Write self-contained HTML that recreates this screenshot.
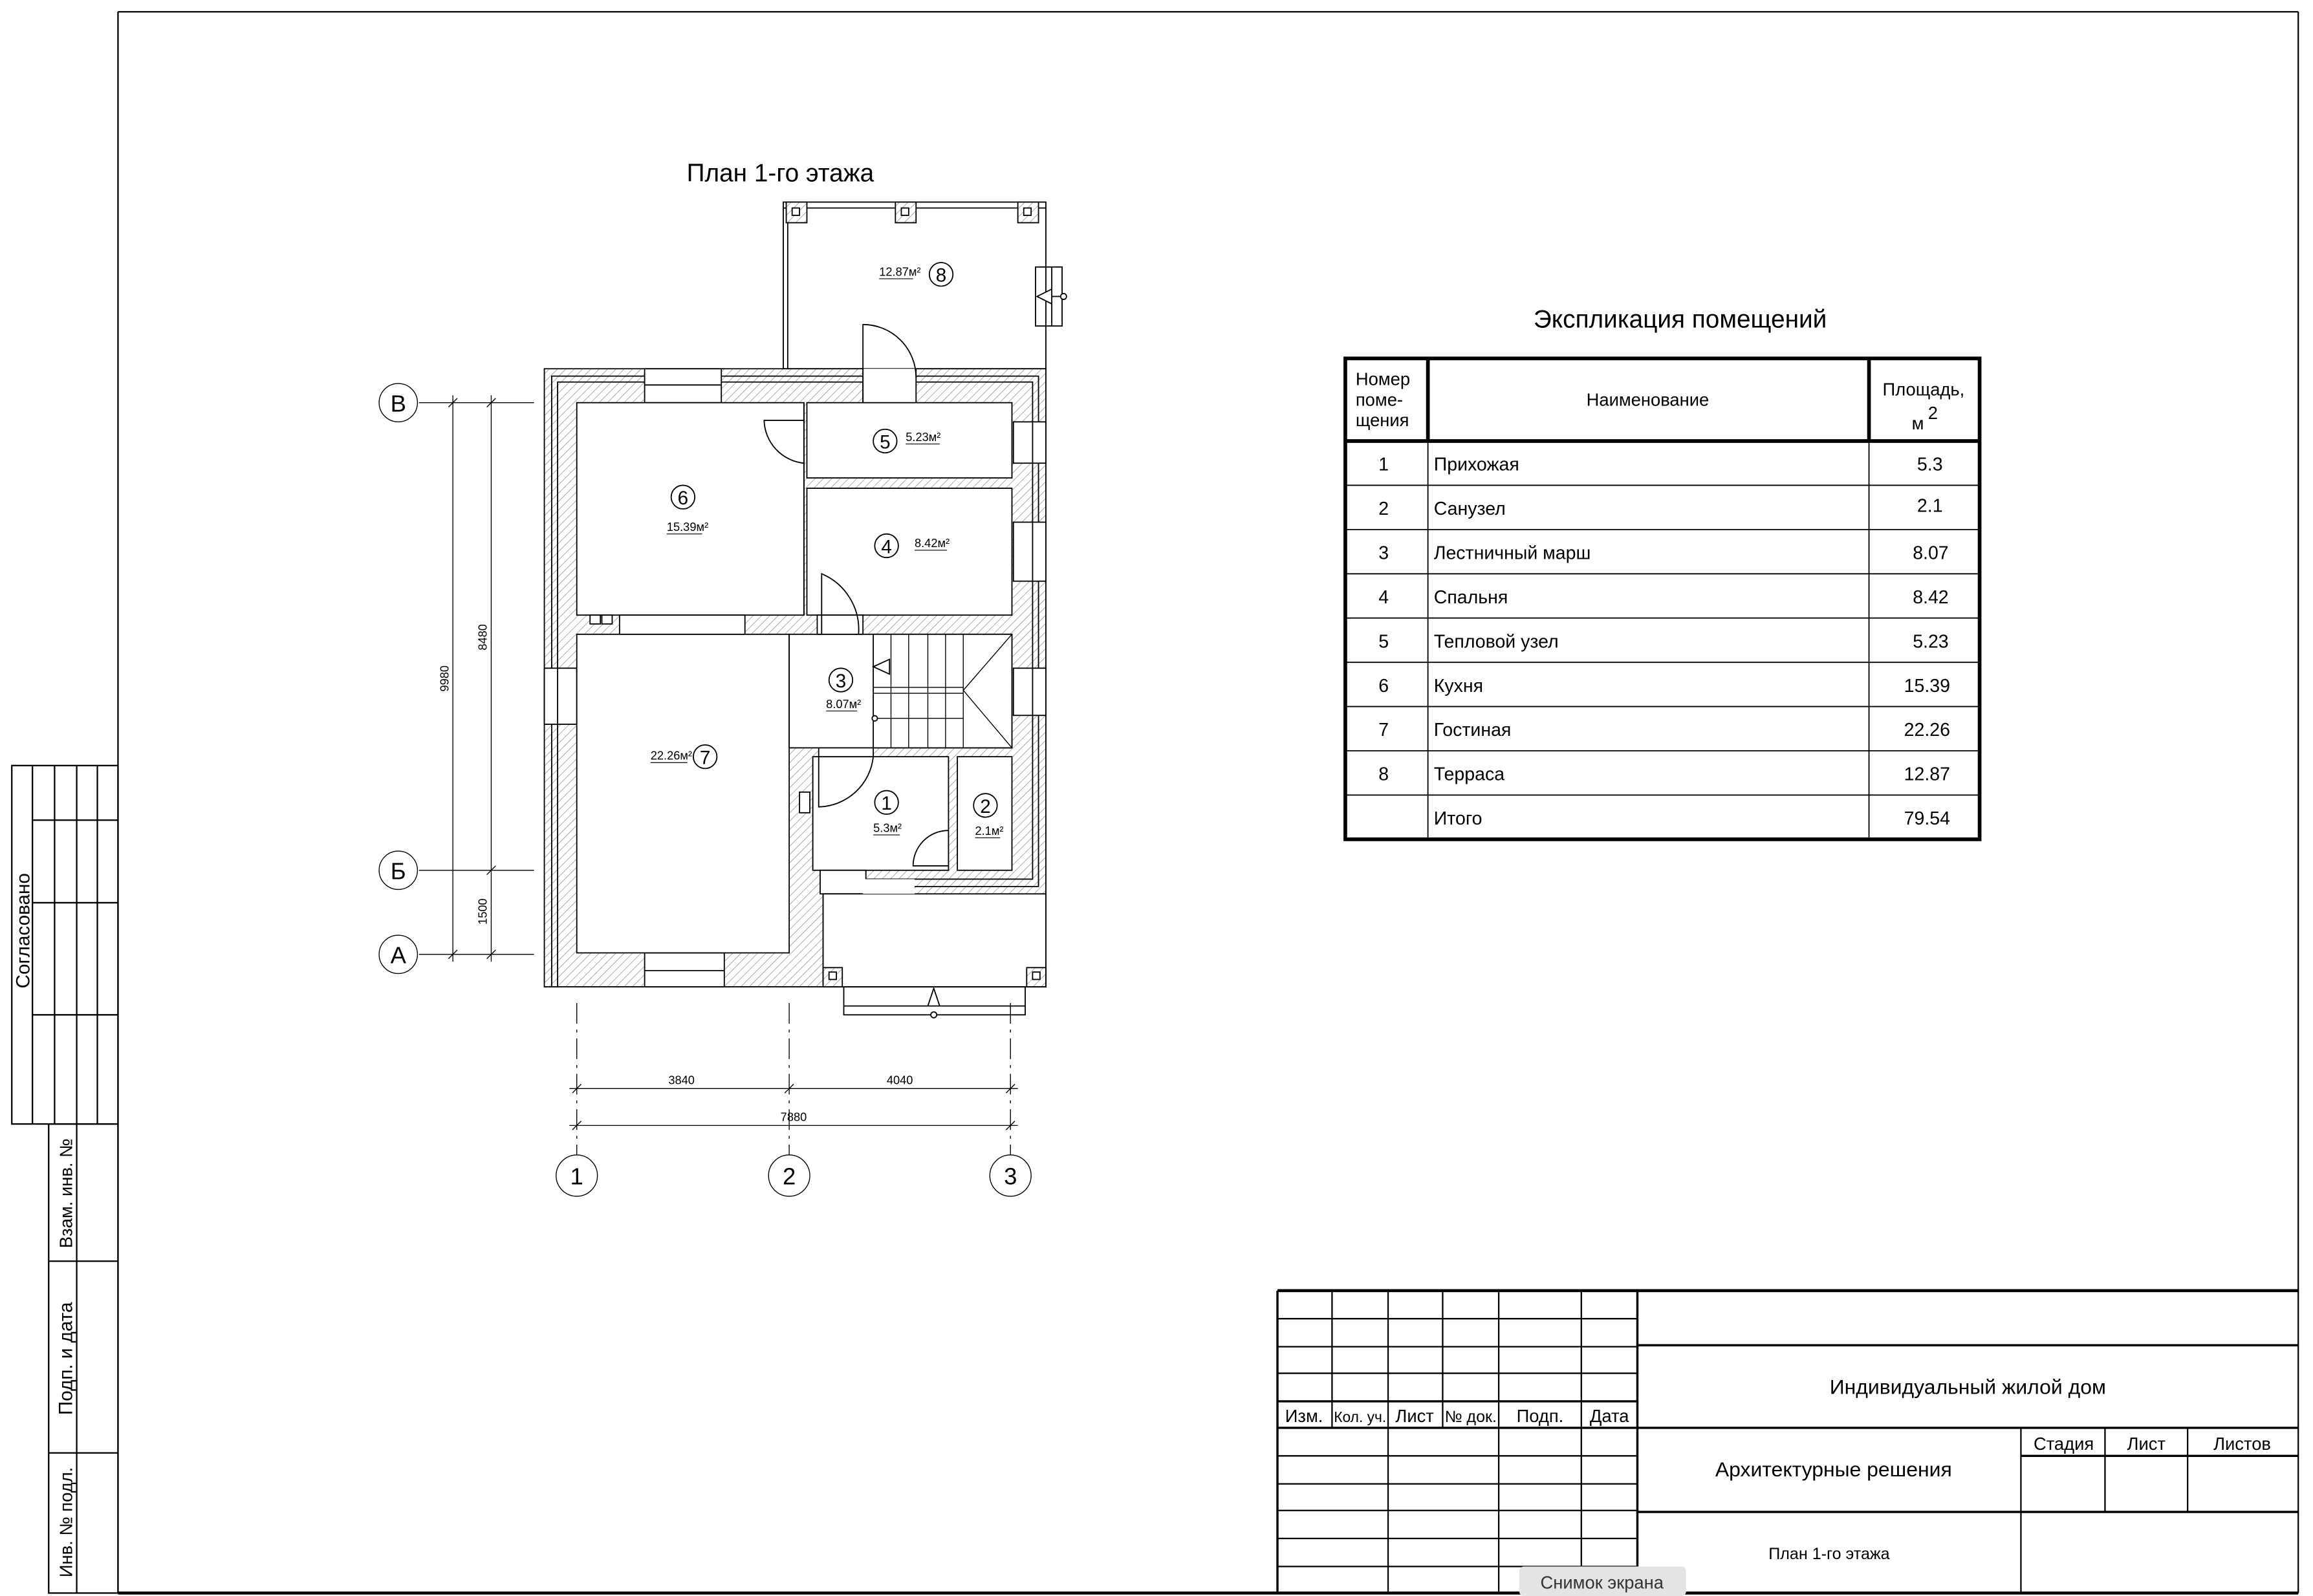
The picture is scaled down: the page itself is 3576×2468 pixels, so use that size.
<!DOCTYPE html>
<html><head><meta charset="utf-8"><style>
html,body{margin:0;padding:0;background:#fff}
svg{display:block}
text{font-family:"Liberation Sans",sans-serif;fill:#000}
.n{font-family:"Liberation Sans Narrow","Liberation Sans",sans-serif}
</style></head><body>
<svg width="3576" height="2468" viewBox="0 0 1568 1082" preserveAspectRatio="none" xmlns="http://www.w3.org/2000/svg">
<defs>
<pattern id="h" width="4" height="4" patternUnits="userSpaceOnUse" patternTransform="rotate(45)">
<rect width="4" height="4" fill="#fff"/><line x1="0" y1="0" x2="0" y2="4" stroke="#888" stroke-width="0.6"/>
</pattern>
</defs>
<rect width="1568" height="1082" fill="#fff"/>
<g stroke="#000" fill="none" stroke-width="1">
<line x1="80" y1="8" x2="1558" y2="8"/>
<line x1="80" y1="8" x2="80" y2="1080"/>
<line x1="1558" y1="8" x2="1558" y2="1080"/>
<line x1="80" y1="1080" x2="1558" y2="1080" stroke-width="2"/>
<rect x="8" y="519" width="72" height="243"/>
<line x1="22" y1="519" x2="22" y2="762"/>
<line x1="37" y1="519" x2="37" y2="762"/>
<line x1="52" y1="519" x2="52" y2="762"/>
<line x1="66" y1="519" x2="66" y2="762"/>
<line x1="22" y1="556" x2="80" y2="556"/>
<line x1="22" y1="612" x2="80" y2="612"/>
<line x1="22" y1="688" x2="80" y2="688"/>
<rect x="33" y="762" width="47" height="318"/>
<line x1="52" y1="762" x2="52" y2="1080"/>
<line x1="33" y1="855" x2="80" y2="855"/>
<line x1="33" y1="985" x2="80" y2="985"/>
</g>
<text x="20" y="631" font-size="13" transform="rotate(-90 20 631)" text-anchor="middle">Согласовано</text>
<text x="49" y="809" font-size="12" transform="rotate(-90 49 809)" text-anchor="middle">Взам. инв. №</text>
<text x="49" y="921" font-size="13" transform="rotate(-90 49 921)" text-anchor="middle">Подп. и дата</text>
<text x="49" y="1032" font-size="12" class="n" transform="rotate(-90 49 1032)" text-anchor="middle">Инв. № подл.</text>

<g stroke="#000" fill="none" stroke-width="1">
<line x1="866" y1="875" x2="1558" y2="875" stroke-width="2"/>
<line x1="866" y1="875" x2="866" y2="1080" stroke-width="1.5"/>
<line x1="903" y1="875" x2="903" y2="968"/>
<line x1="941" y1="875" x2="941" y2="1080"/>
<line x1="978" y1="875" x2="978" y2="968"/>
<line x1="1016" y1="875" x2="1016" y2="1080"/>
<line x1="1072" y1="875" x2="1072" y2="1080"/>
<line x1="1110" y1="875" x2="1110" y2="1080" stroke-width="1.5"/>
<line x1="866" y1="894" x2="1110" y2="894"/>
<line x1="866" y1="913" x2="1110" y2="913"/>
<line x1="866" y1="931" x2="1110" y2="931"/>
<line x1="866" y1="950" x2="1110" y2="950" stroke-width="1.5"/>
<line x1="866" y1="968" x2="1558" y2="968" stroke-width="1.5"/>
<line x1="866" y1="987" x2="1110" y2="987"/>
<line x1="866" y1="1006" x2="1110" y2="1006"/>
<line x1="866" y1="1024" x2="1110" y2="1024"/>
<line x1="866" y1="1043" x2="1110" y2="1043"/>
<line x1="866" y1="1062" x2="1110" y2="1062"/>
<line x1="1110" y1="912" x2="1558" y2="912" stroke-width="1.5"/>
<line x1="1110" y1="1025" x2="1558" y2="1025" stroke-width="1.5"/>
<line x1="1370" y1="968" x2="1370" y2="1080"/>
<line x1="1427" y1="968" x2="1427" y2="1025"/>
<line x1="1483" y1="968" x2="1483" y2="1025"/>
<line x1="1370" y1="987" x2="1558" y2="987" stroke-width="1.5"/>
</g>
<g font-size="12" class="n">
<text x="884" y="964" text-anchor="middle">Изм.</text>
<text x="922" y="964" text-anchor="middle" font-size="10">Кол. уч.</text>
<text x="959" y="964" text-anchor="middle">Лист</text>
<text x="997" y="964" text-anchor="middle" font-size="11">№ док.</text>
<text x="1044" y="964" text-anchor="middle">Подп.</text>
<text x="1091" y="964" text-anchor="middle">Дата</text>
</g>
<text x="1334" y="945" font-size="14" text-anchor="middle">Индивидуальный жилой дом</text>
<text x="1243" y="1001" font-size="14" text-anchor="middle">Архитектурные решения</text>
<text x="1399" y="983" font-size="12" text-anchor="middle">Стадия</text>
<text x="1455" y="983" font-size="12" text-anchor="middle">Лист</text>
<text x="1520" y="983" font-size="12" text-anchor="middle">Листов</text>
<text x="1240" y="1057" font-size="11" text-anchor="middle">План 1-го этажа</text>
<rect x="1030" y="1062" width="113" height="20" rx="3" fill="#e4e4e4"/>
<text x="1086" y="1077" font-size="12" text-anchor="middle" style="fill:#333">Снимок экрана</text>

<text x="1139" y="222" font-size="17" text-anchor="middle">Экспликация помещений</text>
<g stroke="#000" fill="none">
<rect x="912" y="243" width="430" height="326" stroke-width="2.5"/>
<line x1="968" y1="243" x2="968" y2="299" stroke-width="2.5"/>
<line x1="1267" y1="243" x2="1267" y2="299" stroke-width="2.5"/>
<line x1="968" y1="299" x2="968" y2="569" stroke-width="0.8"/>
<line x1="1267" y1="299" x2="1267" y2="569" stroke-width="0.8"/>
<line x1="912" y1="299" x2="1342" y2="299" stroke-width="2.5"/>
<g stroke-width="0.8">
<line x1="912" y1="329" x2="1342" y2="329"/><line x1="912" y1="359" x2="1342" y2="359"/>
<line x1="912" y1="389" x2="1342" y2="389"/><line x1="912" y1="419" x2="1342" y2="419"/>
<line x1="912" y1="449" x2="1342" y2="449"/><line x1="912" y1="479" x2="1342" y2="479"/>
<line x1="912" y1="509" x2="1342" y2="509"/><line x1="912" y1="539" x2="1342" y2="539"/>
</g></g>
<g font-size="12">
<text x="919" y="261">Номер</text><text x="919" y="275">поме-</text><text x="919" y="289">щения</text>
<text x="1117" y="275" text-anchor="middle">Наименование</text>
<text x="1304" y="268" text-anchor="middle">Площадь,</text>
<text x="1296" y="291">м</text><text x="1307" y="284">2</text>
<g font-size="12.5">
<text x="938" y="319" text-anchor="middle">1</text><text x="972" y="319">Прихожая</text><text x="1317" y="319" text-anchor="end">5.3</text>
<text x="938" y="349" text-anchor="middle">2</text><text x="972" y="349">Санузел</text><text x="1317" y="347" text-anchor="end">2.1</text>
<text x="938" y="379" text-anchor="middle">3</text><text x="972" y="379">Лестничный марш</text><text x="1321" y="379" text-anchor="end">8.07</text>
<text x="938" y="409" text-anchor="middle">4</text><text x="972" y="409">Спальня</text><text x="1321" y="409" text-anchor="end">8.42</text>
<text x="938" y="439" text-anchor="middle">5</text><text x="972" y="439">Тепловой узел</text><text x="1321" y="439" text-anchor="end">5.23</text>
<text x="938" y="469" text-anchor="middle">6</text><text x="972" y="469">Кухня</text><text x="1322" y="469" text-anchor="end">15.39</text>
<text x="938" y="499" text-anchor="middle">7</text><text x="972" y="499">Гостиная</text><text x="1322" y="499" text-anchor="end">22.26</text>
<text x="938" y="529" text-anchor="middle">8</text><text x="972" y="529">Терраса</text><text x="1322" y="529" text-anchor="end">12.87</text>
<text x="972" y="559">Итого</text><text x="1322" y="559" text-anchor="end">79.54</text>
</g></g>

<text x="529" y="123" font-size="17" text-anchor="middle">План 1-го этажа</text>

<g stroke="#000" stroke-width="0.8">
<rect x="531" y="137" width="178" height="113" fill="#fff"/>
<line x1="534" y1="144" x2="534" y2="250"/>
<line x1="531" y1="141" x2="709" y2="141"/>
<rect x="533" y="137" width="14" height="14" fill="url(#h)"/><rect x="537" y="141" width="5" height="5" fill="#fff"/>
<rect x="607" y="137" width="14" height="14" fill="url(#h)"/><rect x="611" y="141" width="5" height="5" fill="#fff"/>
<rect x="690" y="137" width="14" height="14" fill="url(#h)"/><rect x="694" y="141" width="5" height="5" fill="#fff"/>
<rect x="702" y="181" width="18" height="40" fill="none"/>
<line x1="713" y1="181" x2="713" y2="221"/>
<polygon points="703,201 713,196 713,206" fill="#fff"/>
<line x1="713" y1="201" x2="720" y2="201"/><circle cx="721" cy="201" r="2" fill="#fff"/>
<polygon points="369,250 709,250 709,669 369,669" fill="url(#h)"/>
<polyline points="378,669 378,259 700,259 700,596 558,596 558,669" fill="none"/>
<polyline points="374,669 374,255 704,255 704,601 562,601" fill="none"/>
<rect x="437" y="250" width="52" height="23" fill="#fff"/><line x1="437" y1="261" x2="489" y2="261"/>
<rect x="437" y="646" width="54" height="23" fill="#fff"/><line x1="437" y1="658" x2="491" y2="658"/>
<rect x="687" y="286" width="22" height="28" fill="#fff"/><line x1="700" y1="286" x2="700" y2="314"/>
<rect x="687" y="354" width="22" height="40" fill="#fff"/><line x1="700" y1="354" x2="700" y2="394"/>
<rect x="687" y="453" width="22" height="32" fill="#fff"/><line x1="700" y1="453" x2="700" y2="485"/>
<rect x="369" y="453" width="22" height="38" fill="#fff"/><line x1="378" y1="453" x2="378" y2="491"/>
<rect x="585" y="250" width="36" height="23" fill="#fff" stroke="none"/>
<line x1="585" y1="250" x2="585" y2="273"/><line x1="621" y1="250" x2="621" y2="273"/>
<path d="M585 273 V220 A36 36 0 0 1 621 256" fill="none"/>
<rect x="391" y="273" width="154" height="144" fill="#fff"/>
<rect x="547" y="273" width="139" height="51" fill="#fff"/>
<rect x="547" y="331" width="139" height="86" fill="#fff"/>
<line x1="545" y1="273" x2="545" y2="417"/>
<rect x="391" y="430" width="144" height="216" fill="#fff"/>
<rect x="535" y="430" width="151" height="77" fill="#fff"/>
<rect x="551" y="513" width="92" height="77" fill="#fff"/>
<rect x="649" y="513" width="37" height="77" fill="#fff"/>
<rect x="420" y="417" width="85" height="13" fill="#fff"/>
<rect x="554" y="417" width="31" height="13" fill="#fff"/>
<rect x="556" y="590" width="31" height="16" fill="#fff"/>
<rect x="555" y="507" width="37" height="6" fill="#fff"/>
<path d="M545 285 H518 A30 30 0 0 0 545 314" fill="none"/>
<path d="M557 430 V389 A41 41 0 0 1 582 430" fill="none"/>
<path d="M555 513 V547 A38 38 0 0 0 592 513" fill="none"/>
<path d="M643 587 H619 A24 24 0 0 1 643 563" fill="none"/>
<path d="M585 606 V644 A34 34 0 0 0 620 606" fill="none"/>
<rect x="592" y="430" width="94" height="77" fill="#fff"/>
<g stroke-width="0.6">
<line x1="604" y1="430" x2="604" y2="507"/><line x1="616" y1="430" x2="616" y2="507"/>
<line x1="629" y1="430" x2="629" y2="507"/><line x1="641" y1="430" x2="641" y2="507"/>
<line x1="653" y1="430" x2="653" y2="507"/>
<line x1="592" y1="466" x2="653" y2="466"/><line x1="592" y1="470" x2="653" y2="470"/>
<line x1="686" y1="430" x2="653" y2="468"/><line x1="686" y1="507" x2="653" y2="468"/>
<line x1="592" y1="487" x2="653" y2="487"/>
</g>
<polygon points="592,452 603,447 603,457" fill="#fff"/>
<circle cx="593" cy="487" r="1.8" fill="#fff"/>
<rect x="400" y="417" width="7" height="6" fill="#fff"/><rect x="408" y="417" width="7" height="6" fill="#fff"/>
<rect x="542" y="537" width="7" height="14" fill="#fff"/>
<rect x="558" y="606" width="151" height="63" fill="#fff"/>
<rect x="585" y="596" width="35" height="10" fill="#fff" stroke="none"/>
<rect x="558" y="656" width="13" height="13" fill="url(#h)"/><rect x="562" y="659" width="5" height="5" fill="#fff"/>
<rect x="696" y="656" width="13" height="13" fill="url(#h)"/><rect x="700" y="659" width="5" height="5" fill="#fff"/>
<rect x="572" y="669" width="123" height="19" fill="none"/>
<line x1="572" y1="682" x2="695" y2="682"/>
<polygon points="633,670 629,682 637,682" fill="#fff"/>
<circle cx="633" cy="688" r="2" fill="#fff"/>
</g>
<g font-size="8" class="n">
<circle cx="638" cy="186" r="8" fill="none" stroke="#000" stroke-width="0.8"/><text x="638" y="191" font-size="13" text-anchor="middle">8</text>
<text x="596" y="187">12.87м²</text><line x1="596" y1="189" x2="619" y2="189" stroke="#000" stroke-width="0.5"/>
<circle cx="600" cy="299" r="8" fill="none" stroke="#000" stroke-width="0.8"/><text x="600" y="304" font-size="13" text-anchor="middle">5</text>
<text x="614" y="299">5.23м²</text><line x1="614" y1="301" x2="637" y2="301" stroke="#000" stroke-width="0.5"/>
<circle cx="463" cy="337" r="8" fill="none" stroke="#000" stroke-width="0.8"/><text x="463" y="342" font-size="13" text-anchor="middle">6</text>
<text x="452" y="360">15.39м²</text><line x1="452" y1="362" x2="476" y2="362" stroke="#000" stroke-width="0.5"/>
<circle cx="601" cy="370" r="8" fill="none" stroke="#000" stroke-width="0.8"/><text x="601" y="375" font-size="13" text-anchor="middle">4</text>
<text x="620" y="371">8.42м²</text><line x1="620" y1="373" x2="642" y2="373" stroke="#000" stroke-width="0.5"/>
<circle cx="570" cy="461" r="8" fill="none" stroke="#000" stroke-width="0.8"/><text x="570" y="466" font-size="13" text-anchor="middle">3</text>
<text x="560" y="480">8.07м²</text><line x1="560" y1="482" x2="581" y2="482" stroke="#000" stroke-width="0.5"/>
<circle cx="478" cy="513" r="8" fill="none" stroke="#000" stroke-width="0.8"/><text x="478" y="518" font-size="13" text-anchor="middle">7</text>
<text x="441" y="515">22.26м²</text><line x1="441" y1="517" x2="466" y2="517" stroke="#000" stroke-width="0.5"/>
<circle cx="601" cy="544" r="8" fill="none" stroke="#000" stroke-width="0.8"/><text x="601" y="549" font-size="13" text-anchor="middle">1</text>
<text x="592" y="564">5.3м²</text><line x1="592" y1="566" x2="610" y2="566" stroke="#000" stroke-width="0.5"/>
<circle cx="668" cy="546" r="8" fill="none" stroke="#000" stroke-width="0.8"/><text x="668" y="551" font-size="13" text-anchor="middle">2</text>
<text x="661" y="566">2.1м²</text><line x1="661" y1="568" x2="678" y2="568" stroke="#000" stroke-width="0.5"/>
</g>
<g stroke="#000" stroke-width="0.6" fill="none">
<line x1="284" y1="273" x2="362" y2="273"/>
<line x1="284" y1="590" x2="362" y2="590"/>
<line x1="284" y1="647" x2="362" y2="647"/>
<line x1="307" y1="268" x2="307" y2="652"/>
<line x1="333" y1="268" x2="333" y2="652"/>
<line x1="304" y1="276" x2="310" y2="270"/><line x1="304" y1="650" x2="310" y2="644"/>
<line x1="330" y1="276" x2="336" y2="270"/><line x1="330" y1="593" x2="336" y2="587"/><line x1="330" y1="650" x2="336" y2="644"/>
<line x1="391" y1="680" x2="391" y2="783" stroke-dasharray="14 4 2 4"/>
<line x1="535" y1="680" x2="535" y2="783" stroke-dasharray="14 4 2 4"/>
<line x1="685" y1="680" x2="685" y2="783" stroke-dasharray="14 4 2 4"/>
<line x1="386" y1="738" x2="690" y2="738"/>
<line x1="386" y1="763" x2="690" y2="763"/>
<line x1="388" y1="741" x2="394" y2="735"/><line x1="532" y1="741" x2="538" y2="735"/><line x1="682" y1="741" x2="688" y2="735"/>
<line x1="388" y1="766" x2="394" y2="760"/><line x1="682" y1="766" x2="688" y2="760"/>
<circle cx="270" cy="273" r="13"/><circle cx="270" cy="590" r="13"/><circle cx="270" cy="647" r="13"/>
<circle cx="391" cy="797" r="14"/><circle cx="535" cy="797" r="14"/><circle cx="685" cy="797" r="14"/>
</g>
<g font-size="16" text-anchor="middle">
<text x="270" y="279">В</text><text x="270" y="596">Б</text><text x="270" y="653">А</text>
<text x="391" y="803">1</text><text x="535" y="803">2</text><text x="685" y="803">3</text>
</g>
<g font-size="8" class="n" text-anchor="middle">
<text x="462" y="735">3840</text><text x="610" y="735">4040</text><text x="538" y="760">7880</text>
<text x="304" y="460" transform="rotate(-90 304 460)">9980</text>
<text x="330" y="432" transform="rotate(-90 330 432)">8480</text>
<text x="330" y="618" transform="rotate(-90 330 618)">1500</text>
</g>
</svg>
</body></html>
